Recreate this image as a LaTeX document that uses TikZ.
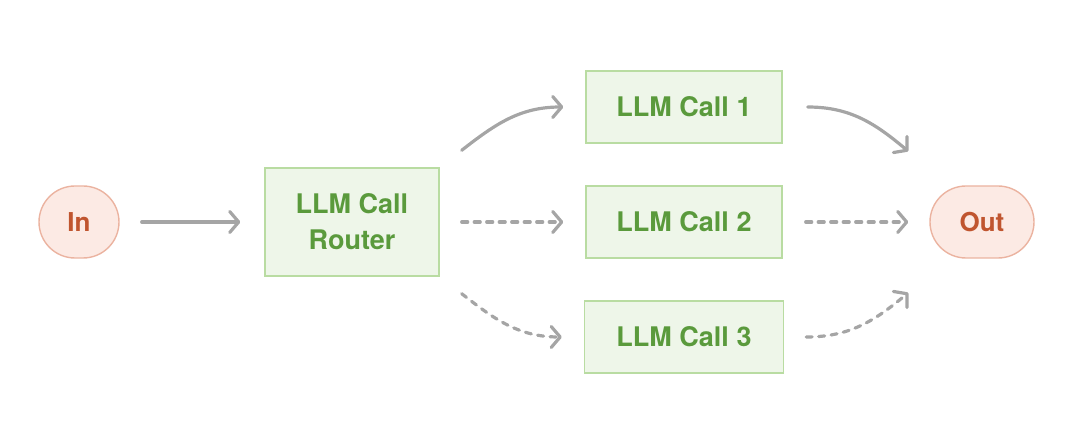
\documentclass[tikz,border=0pt]{standalone}
\usepackage{fontspec}
\newfontfamily\boxfont{TeX Gyre Heros}
\usetikzlibrary{arrows.meta,positioning}

\definecolor{callfill}{HTML}{EEF6E9}
\definecolor{calldraw}{HTML}{B9DCA2}
\definecolor{calltext}{HTML}{5A9A3C}
\definecolor{pillfill}{HTML}{FCEAE4}
\definecolor{pilldraw}{HTML}{EBB3A0}
\definecolor{pilltext}{HTML}{C0552F}
\definecolor{flowgray}{HTML}{A5A5A5}

\begin{document}
\begin{tikzpicture}[%
    x=1pt, y=1pt,
    >={Straight Barb[length=9pt,width=21pt,line cap=round,line join=round]},
    node distance=3cm,
    on grid,
    call/.style={draw=calldraw, fill=callfill, line width=1.4pt,
      minimum width=196pt, minimum height=72pt, align=center,
      text=calltext, font=\boxfont\bfseries\fontsize{27}{36}\selectfont},
    pill/.style={draw=pilldraw, fill=pillfill, line width=1.4pt,
      rounded corners=36pt, minimum height=72pt, inner xsep=12pt,
      text=pilltext, font=\boxfont\bfseries\fontsize{26}{30}\selectfont},
    flow/.style={->, draw=flowgray, line width=3.2pt, line cap=round},
    maybe/.style={flow, dash pattern=on 6pt off 6.5pt}
  ]
    \useasboundingbox (0,0) rectangle (1080,434);

    \node[pill, minimum width=80pt] (in) at (79,212) {In};
    \node[call, minimum width=174pt, minimum height=108pt] (router) [right=273pt of in] {LLM Call\\Router};
    \node[call] (call2) [right=332pt of router] {LLM Call 2};
    \node[call] (call1) [above=115pt of call2] {LLM Call 1};
    \node[call, minimum width=199pt] (call3) [below=115pt of call2] {LLM Call 3};
    \node[pill, minimum width=104pt] (out) [right=298pt of call2] {Out};

    % free ends of the curved arrows
    \coordinate (r1) at ([xshift=22pt, yshift=17pt]router.north east);
    \coordinate (r3) at ([xshift=22pt, yshift=-17pt]router.south east);
    \coordinate (o1) at ([xshift=-21pt, yshift=34pt]out.north west);
    \coordinate (o3) at ([xshift=-21pt, yshift=-34pt]out.south west);

    \draw[flow, shorten <=22pt, shorten >=24pt] (in) -- (router);
    \draw[flow] (r1) to[out=38, in=180] ([xshift=-22pt]call1.west);
    \draw[maybe, shorten <=22pt, shorten >=22pt] (router) -- (call2);
    \draw[maybe] (r3) to[out=-38, in=180] ([xshift=-22pt]call3.west);

    \draw[flow] ([xshift=25pt]call1.east) to[out=0, in=140] (o1);
    \draw[maybe, shorten <=23pt, shorten >=21pt] (call2) -- (out);
    \draw[maybe] ([xshift=22pt]call3.east) to[out=0, in=220] (o3);
\end{tikzpicture}
\end{document}
